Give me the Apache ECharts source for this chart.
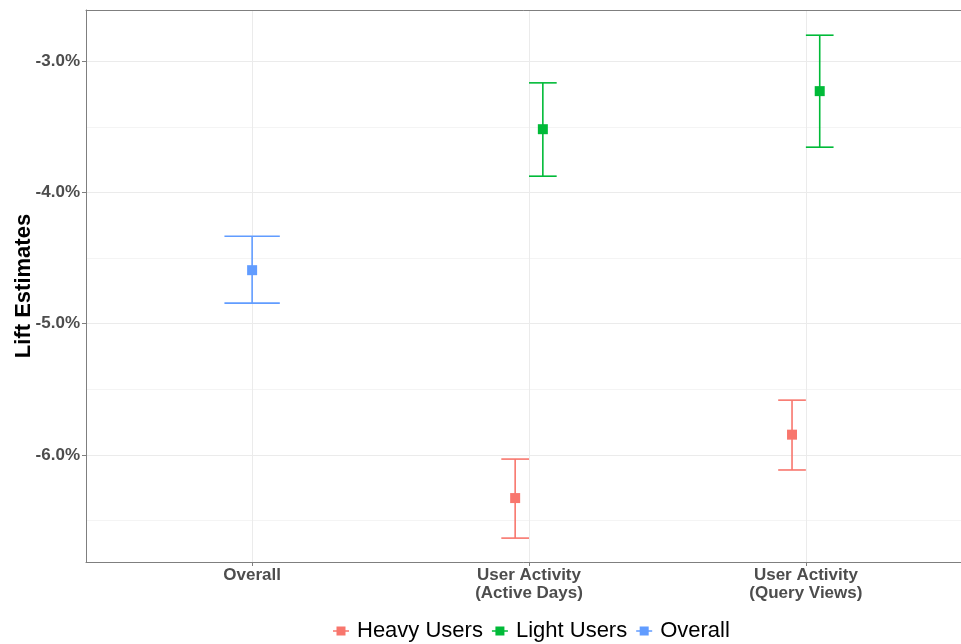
<!DOCTYPE html>
<html>
<head>
<meta charset="utf-8">
<script src="https://cdn.jsdelivr.net/npm/echarts@6/dist/echarts.min.js"></script>
<style>
  html, body { margin: 0; padding: 0; background: #ffffff; }
  #chart { width: 961px; height: 644px; }
</style>
</head>
<body>
<div id="chart"></div>
<script>
// ---- Data ----
const categories = ['Overall', 'User Activity\n(Active Days)', 'User Activity\n(Query Views)'];
const groups = ['Heavy Users', 'Light Users', 'Overall'];
const groupColors = ['#F8766D', '#00BA38', '#619CFF'];

// point estimates per category (null = group not present)
const heavyEst   = [null, -6.328, -5.845];
const heavyLow   = [null, -6.633, -6.114];
const heavyHigh  = [null, -6.031, -5.582];

const lightEst   = [null, -3.518, -3.228];
const lightLow   = [null, -3.876, -3.655];
const lightHigh  = [null, -3.165, -2.802];

const overallEst  = [-4.592, null, null];
const overallLow  = [-4.843, null, null];
const overallHigh = [-4.333, null, null];

const yTickValues = [-6, -5, -4, -3];
const yMinorValues = [-6.5, -5.5, -4.5, -3.5];

// ---- Layout / style constants ----
const DODGE = 0.05;       // half dodge offset in category units
const CAP_FULL = 0.1;     // errorbar half width when not dodged
const CAP_DODGED = 0.05;  // errorbar half width when dodged
const X_MIN = 0.4, X_MAX = 3.6;
const Y_MIN = -6.815, Y_MAX = -2.61;
const BORDER = '#7F7F7F';

function buildData(est, low, high, offset) {
  const out = [];
  est.forEach((v, i) => {
    if (v === null) return;
    out.push([i + 1 + offset, v, low[i], high[i]]);
  });
  return out;
}

function makeRender(color, capHalf) {
  return function (params, api) {
    const x = api.value(0);
    const p = api.coord([x, api.value(1)]);
    const lo = api.coord([x, api.value(2)]);
    const hi = api.coord([x, api.value(3)]);
    const hiL = api.coord([x - capHalf, api.value(3)]);
    const hiR = api.coord([x + capHalf, api.value(3)]);
    const loL = api.coord([x - capHalf, api.value(2)]);
    const loR = api.coord([x + capHalf, api.value(2)]);
    const ls = { stroke: color, lineWidth: 1.6 };
    const s = 10;
    return {
      type: 'group',
      children: [
        { type: 'line', shape: { x1: hi[0], y1: hi[1], x2: lo[0], y2: lo[1] }, style: ls },
        { type: 'line', shape: { x1: hiL[0], y1: hiL[1], x2: hiR[0], y2: hiR[1] }, style: ls },
        { type: 'line', shape: { x1: loL[0], y1: loL[1], x2: loR[0], y2: loR[1] }, style: ls },
        { type: 'rect', shape: { x: p[0] - s / 2, y: p[1] - s / 2, width: s, height: s }, style: { fill: color } }
      ]
    };
  };
}

const legendIcon = 'path://M0,4.3H16V5.7H0Z M3.5,0.5H12.5V9.5H3.5Z';

const chart = echarts.init(document.getElementById('chart'), null, { renderer: 'canvas' });

const option = {
  backgroundColor: '#ffffff',
  animation: false,
  textStyle: { fontFamily: 'Liberation Sans' },
  grid: {
    left: 86, right: -11, top: 10, bottom: 82,
    outerBoundsMode: 'none', containLabel: false, show: false
  },
  legend: {
    data: groups.map((g, i) => ({ name: g, icon: legendIcon, itemStyle: { color: groupColors[i] } })),
    left: 333, top: 620, padding: 0,
    itemWidth: 16, itemHeight: 10, itemGap: 9,
    textStyle: { fontSize: 22, color: '#000000', fontFamily: 'Liberation Sans', padding: [0, 0, 0, 3] }
  },
  xAxis: [{
    type: 'value', min: X_MIN, max: X_MAX, position: 'bottom',
    axisLine: { show: true, onZero: false, lineStyle: { color: BORDER, width: 1 } },
    splitLine: { show: false },
    axisTick: { show: true, customValues: [1, 2, 3], length: 4, lineStyle: { color: BORDER } },
    axisLabel: {
      customValues: [1, 2, 3],
      formatter: v => categories[Math.round(v) - 1] || '',
      fontSize: 17, fontWeight: 'bold', color: '#4D4D4D', lineHeight: 18, margin: 4,
      fontFamily: 'Liberation Sans'
    }
  }, {
    type: 'value', min: X_MIN, max: X_MAX, position: 'top',
    axisLine: { show: true, onZero: false, lineStyle: { color: BORDER, width: 1 } },
    splitLine: { show: false }, axisTick: { show: false }, axisLabel: { show: false }
  }],
  yAxis: {
    type: 'value', min: Y_MIN, max: Y_MAX,
    name: 'Lift Estimates', nameLocation: 'middle', nameGap: 51, nameMoveOverlap: false,
    nameTextStyle: { fontSize: 22, fontWeight: 'bold', color: '#000000', fontFamily: 'Liberation Sans' },
    axisLine: { show: true, onZero: false, lineStyle: { color: BORDER, width: 1 } },
    splitLine: { show: false },
    axisTick: { show: true, customValues: yTickValues, length: 4, lineStyle: { color: BORDER } },
    axisLabel: {
      customValues: yTickValues,
      formatter: v => v.toFixed(1) + '%',
      fontSize: 17, fontWeight: 'bold', color: '#4D4D4D', margin: 6,
      fontFamily: 'Liberation Sans'
    }
  },
  series: [
    {
      name: '_grid', type: 'line', data: [], silent: true, z: 0,
      markLine: {
        z: 0, silent: true, symbol: 'none', label: { show: false }, animation: false,
        data: [
          ...yMinorValues.map(v => ({ yAxis: v, lineStyle: { color: '#F4F4F4', width: 1, type: 'solid' } })),
          ...yTickValues.map(v => ({ yAxis: v, lineStyle: { color: '#EBEBEB', width: 1, type: 'solid' } })),
          ...[1, 2, 3].map(v => ({ xAxis: v, lineStyle: { color: '#EBEBEB', width: 1, type: 'solid' } }))
        ]
      }
    },
    {
      name: groups[0], type: 'custom', z: 10, itemStyle: { color: groupColors[0] },
      renderItem: makeRender(groupColors[0], CAP_DODGED),
      data: buildData(heavyEst, heavyLow, heavyHigh, -DODGE)
    },
    {
      name: groups[1], type: 'custom', z: 10, itemStyle: { color: groupColors[1] },
      renderItem: makeRender(groupColors[1], CAP_DODGED),
      data: buildData(lightEst, lightLow, lightHigh, DODGE)
    },
    {
      name: groups[2], type: 'custom', z: 10, itemStyle: { color: groupColors[2] },
      renderItem: makeRender(groupColors[2], CAP_FULL),
      data: buildData(overallEst, overallLow, overallHigh, 0)
    }
  ]
};

chart.setOption(option);
</script>
</body>
</html>
